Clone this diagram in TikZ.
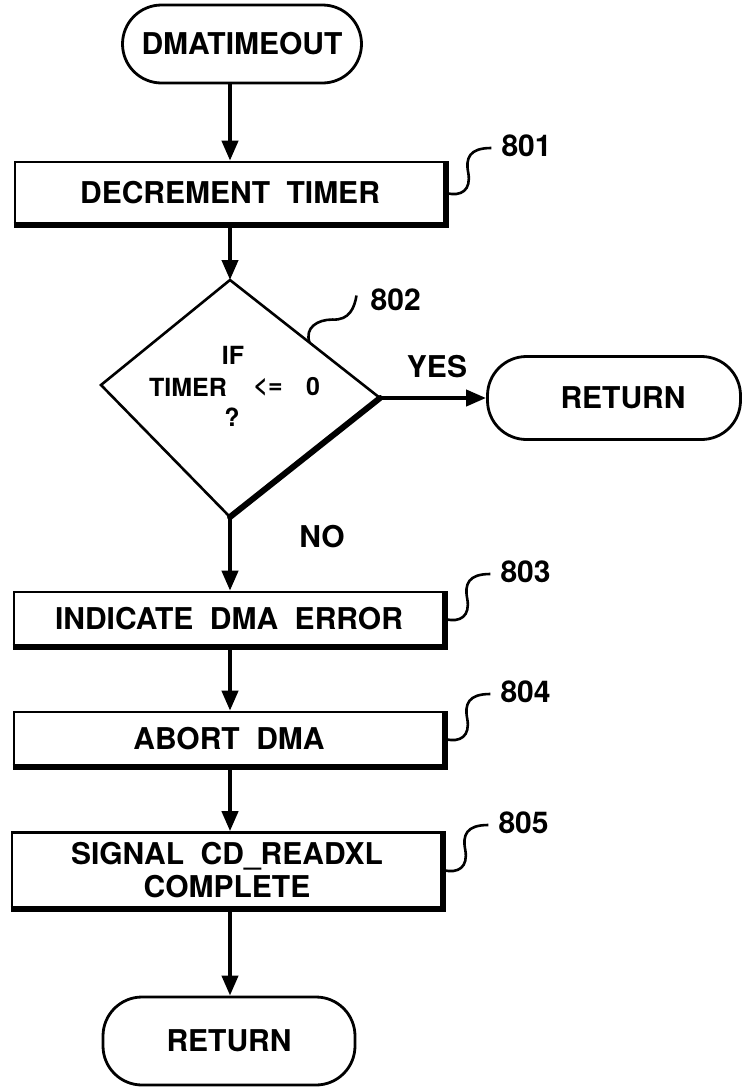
\documentclass[tikz,border=0pt]{standalone}
\usepackage{fontspec}
\setmainfont{TeX Gyre Heros}
\usetikzlibrary{arrows.meta,calc}
\newcommand\mywidespaces{\spaceskip=0.55em\relax}
\begin{document}
\begin{tikzpicture}[x=1pt,y=-1pt,
  bigfont/.style={font=\fontsize{30}{33}\selectfont\bfseries},
  box/.style={draw,line width=2.6pt,minimum width=430pt,inner sep=0pt,bigfont,align=center},
  term/.style={draw,line width=2.8pt,rounded corners=39pt,inner sep=0pt,bigfont},
  flow/.style={line width=4pt,-{Triangle[length=20pt,width=16pt]}},
  shadeedge/.style={line width=6pt},
  squig/.style={line width=2.6pt},
  lbl/.style={font=\fontsize{30}{32}\selectfont\bfseries,anchor=west,inner sep=0pt},
  dtext/.style={font=\fontsize{25}{28}\selectfont\bfseries,inner sep=0pt}]
\useasboundingbox (0,0) rectangle (744,1090);

% terminators
\node[term,minimum width=239pt,minimum height=78pt] (dm) at (242,44) {DMATIMEOUT};
\node[term,minimum width=253pt,minimum height=83pt] (ret1) at (614,398) {\hspace*{18pt}RETURN};
\node[term,minimum width=252pt,minimum height=88pt] (ret2) at (229,1041) {RETURN};

% process boxes
\node[box,minimum height=62pt] (b801) at (230,193) {\mywidespaces DECREMENT TIMER};
\node[box,minimum height=54pt] (b803) at (229,619) {\mywidespaces INDICATE DMA ERROR};
\node[box,minimum height=54pt] (b804) at (229,739) {\mywidespaces ABORT DMA};
\node[box,minimum height=75pt] (b805) at (227,870) {\mywidespaces SIGNAL CD\_READXL\\COMPLETE};

\foreach \b in {b801,b803,b804,b805}{
  \draw[shadeedge] (\b.south west) -- (\b.south east) -- (\b.north east);
}

% decision diamond
\coordinate (dt) at (230,280);
\coordinate (dr) at (380,398);
\coordinate (db) at (230,517);
\coordinate (dl) at (101,385);
\draw[line width=2.6pt,line join=miter] (dt) -- (dr) -- (db) -- (dl) -- cycle;
\draw[shadeedge,line cap=round] (dr) -- (db);
\node[dtext] (dif) at (233,355) {IF};
\node[dtext] (dtimer) at (188,387) {TIMER};
\node[dtext] (dle) at (268,387) {<=};
\node[dtext] (dzero) at (313,387) {0};
\node[dtext] (dq) at (232,417) {?};

% connectors
\draw[flow] (dm.south -| b801.north) -- (b801.north);
\draw[flow] (b801.south) -- (dt);
\draw[flow] (dr) -- (ret1.west);
\draw[flow] (db) -- (b803.north -| db);
\draw[flow] (b803.south -| db) -- (b804.north -| db);
\draw[flow] (b804.south -| db) -- (b805.north -| db);
\draw[flow] (b805.south -| db) -- (ret2.north -| db);

\node[bigfont,inner sep=0pt] (yes) at (437,367) {YES};
\node[bigfont,inner sep=0pt] (no) at (322,537) {NO};

% reference squiggles
\foreach \b/\t in {b801/801,b803/803,b804/804,b805/805}{
  \draw[squig] (\b.east) .. controls +(15,4) and +(3,17) .. ++(22,-20)
     .. controls +(-3,-15) and +(-22,0) .. ++(23,-25) coordinate (e\t);
  \node[lbl] (l\t) at ($(e\t)+(10,-2)$) {\t};
}
\coordinate (s802) at ($(dt)!0.53!(dr)$);
\draw[squig] (s802) .. controls +(-5,-15) and +(-15,0) .. ++(23,-23)
   .. controls +(17,1) and +(-2,12) .. ++(24,-24) coordinate (e802);
\node[lbl] (l802) at ($(e802)+(14,4)$) {802};
\end{tikzpicture}
\end{document}
